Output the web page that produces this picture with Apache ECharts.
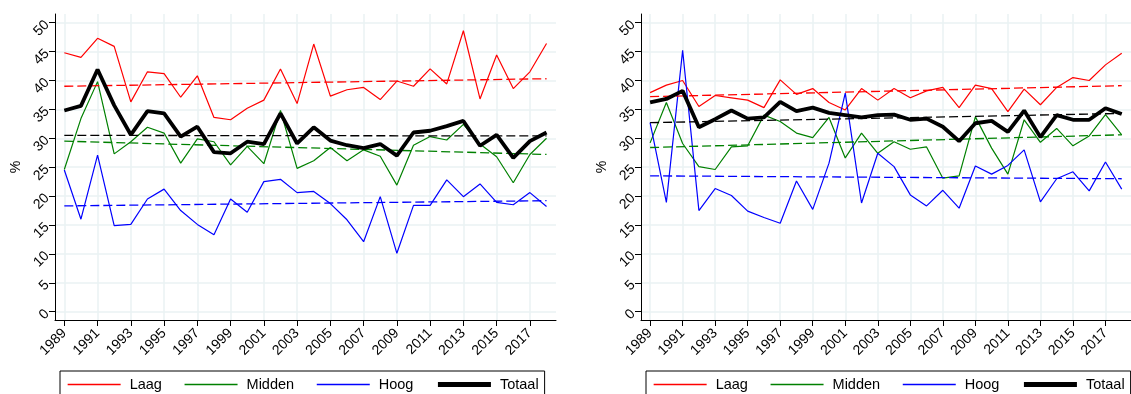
<!DOCTYPE html>
<html>
<head>
<meta charset="utf-8">
<script src="https://cdn.jsdelivr.net/npm/echarts@6/dist/echarts.min.js"></script>
<style>
html,body{margin:0;padding:0;background:#fff;}
#c{width:1131px;height:394px;}
</style>
</head>
<body>
<div id="c"></div>
<script>
const years = [1989,1990,1991,1992,1993,1994,1995,1996,1997,1998,1999,2000,2001,2002,2003,2004,2005,2006,2007,2008,2009,2010,2011,2012,2013,2014,2015,2016,2017,2018];
const xTicks = [1989,1991,1993,1995,1997,1999,2001,2003,2005,2007,2009,2011,2013,2015,2017];
const yTicks = [0,5,10,15,20,25,30,35,40,45,50];
const seriesNames = ['Laag','Midden','Hoog','Totaal'];

// Left panel
const leftLaag   = [44.8,44.0,47.3,45.9,36.3,41.5,41.2,37.1,40.8,33.6,33.2,35.2,36.6,42.0,36.0,46.3,37.3,38.4,38.8,36.7,39.9,39.0,42.0,39.4,48.6,36.8,44.4,38.6,41.5,46.4];
const leftMidden = [24.6,33.4,39.8,27.3,29.4,31.9,30.9,25.7,29.9,29.4,25.4,28.6,25.6,34.8,24.8,26.1,28.4,26.1,28.0,26.9,21.9,28.8,30.3,29.7,32.4,29.0,26.8,22.3,27.2,30.0];
const leftHoog   = [24.5,16.0,27.1,14.9,15.1,19.5,21.2,17.5,15.1,13.3,19.5,17.2,22.5,22.9,20.6,20.8,18.7,15.9,12.1,19.9,10.1,18.4,18.4,22.8,19.9,22.1,18.9,18.5,20.6,18.2];
const leftTotaal = [34.8,35.6,41.9,35.7,30.6,34.7,34.3,30.3,32.0,27.6,27.4,29.4,29.0,34.3,29.1,31.9,29.6,28.8,28.3,29.0,27.0,31.0,31.3,32.1,33.0,28.7,30.6,26.6,29.5,31.0];
// trend lines: [value at 1989, value at 2018]
const leftTrendLaag   = [39.0,40.3];
const leftTrendMidden = [29.5,27.2];
const leftTrendHoog   = [18.3,19.2];
const leftTrendTotaal = [30.5,30.4];

// Right panel
const rightLaag   = [37.9,39.2,40.0,35.5,37.4,37.0,36.6,35.3,40.1,37.6,38.6,36.2,34.9,38.6,36.6,38.6,37.0,38.2,38.8,35.3,39.2,38.6,34.6,38.5,35.8,38.8,40.5,40.0,42.7,44.7];
const rightMidden = [29.2,36.2,29.1,25.1,24.6,28.5,28.7,34.0,32.9,30.9,30.1,33.6,26.6,30.9,27.4,29.4,28.1,28.5,23.1,23.5,33.7,28.3,23.8,33.2,29.3,31.7,28.7,30.4,34.1,30.6];
const rightHoog   = [32.7,18.9,45.2,17.5,21.3,20.1,17.4,16.3,15.3,22.6,17.7,25.7,37.8,18.8,27.4,25.1,20.2,18.3,21.0,17.9,25.2,23.8,25.3,28.0,19.0,23.0,24.2,20.9,25.9,21.2];
const rightTotaal = [36.2,36.8,38.2,31.9,33.3,34.8,33.4,33.6,36.3,34.7,35.3,34.4,34.0,33.6,34.0,34.1,33.2,33.4,32.0,29.5,32.6,33.0,31.1,34.8,30.2,34.0,33.2,33.2,35.2,34.2];
const rightTrendLaag   = [37.2,39.1];
const rightTrendMidden = [28.4,30.6];
const rightTrendHoog   = [23.5,23.0];
const rightTrendTotaal = [32.7,34.3];

const colors = {Laag:'#ff0000', Midden:'#008000', Hoog:'#0000ff', Totaal:'#000000'};
const widths = {Laag:1.2, Midden:1.2, Hoog:1.2, Totaal:3.8};
const FONT = '"Liberation Sans", Arial, sans-serif';

const grids = [
  {left:55, top:14, width:501, height:306},
  {left:641, top:14, width:501, height:306}
];

function xAxisFor(i){
  return {
    type:'value', gridIndex:i, min:1988.44, max:2018.57,
    axisLine:{show:true, onZero:false, lineStyle:{color:'#000', width:1}},
    axisTick:{show:true, length:6, lineStyle:{color:'#000'}, customValues:xTicks},
    axisLabel:{customValues:xTicks, rotate:45, margin:11, color:'#000', fontSize:14, fontFamily:FONT, formatter:v=>String(v)},
    splitLine:{show:true, lineStyle:{color:'#eaf2f3', width:1.5}}
  };
}
function yAxisFor(i){
  return {
    type:'value', gridIndex:i, min:-1.44, max:51.5,
    name:'%', nameLocation:'middle', nameGap:32, nameRotate:90,
    nameTextStyle:{color:'#000', fontSize:14, fontFamily:FONT},
    axisLine:{show:true, onZero:false, lineStyle:{color:'#000', width:1}},
    axisTick:{show:true, length:6, lineStyle:{color:'#000'}, customValues:yTicks},
    axisLabel:{customValues:yTicks, rotate:45, margin:8, color:'#000', fontSize:14, fontFamily:FONT},
    splitLine:{show:true, lineStyle:{color:'#eaf2f3', width:1.5}}
  };
}

function pair(vals){ return vals.map((v,k)=>[years[k], v]); }
function trend(t){ return [[years[0], t[0]], [years[years.length-1], t[1]]]; }

function panelSeries(i, data, trends){
  const out = [];
  ['Laag','Midden','Hoog'].forEach((n,k)=>{
    out.push({name:n, type:'line', xAxisIndex:i, yAxisIndex:i, data:pair(data[k]), symbol:'none', silent:true,
      lineStyle:{color:colors[n], width:widths[n]}, itemStyle:{color:colors[n], opacity:0}, z:2});
  });
  seriesNames.forEach((n,k)=>{
    out.push({name:n+' trend', type:'line', xAxisIndex:i, yAxisIndex:i, data:trend(trends[k]), symbol:'none', silent:true,
      lineStyle:{color:colors[n], width:1.3, type:[9,4]}, itemStyle:{color:colors[n], opacity:0}, z:3});
  });
  out.push({name:'Totaal', type:'line', xAxisIndex:i, yAxisIndex:i, data:pair(data[3]), symbol:'none', silent:true,
    lineStyle:{color:'#000', width:widths.Totaal}, itemStyle:{color:'#000', opacity:0}, z:4});
  return out;
}

function legendFor(left){
  return {
    data:seriesNames.map(n=>({name:n, lineStyle:{width:n==='Totaal'?5:1.3, color:colors[n]}})),
    left:left, top:371, width:560, orient:'horizontal',
    padding:[6,6,7,7], itemWidth:53, itemHeight:14, itemGap:22,
    borderColor:'#000', borderWidth:1, borderRadius:0,
    itemStyle:{opacity:0},
    textStyle:{color:'#000', fontSize:14.5, fontFamily:FONT, padding:[0,0,0,4]},
    selectedMode:false
  };
}

const chart = echarts.init(document.getElementById('c'), null, {renderer:'canvas'});
chart.setOption({
  animation:false,
  backgroundColor:'#fff',
  textStyle:{fontFamily:FONT},
  grid:grids,
  xAxis:[xAxisFor(0), xAxisFor(1)],
  yAxis:[yAxisFor(0), yAxisFor(1)],
  legend:[legendFor(60), legendFor(646)],
  series:[
    ...panelSeries(0, [leftLaag,leftMidden,leftHoog,leftTotaal], [leftTrendLaag,leftTrendMidden,leftTrendHoog,leftTrendTotaal]),
    ...panelSeries(1, [rightLaag,rightMidden,rightHoog,rightTotaal], [rightTrendLaag,rightTrendMidden,rightTrendHoog,rightTrendTotaal])
  ]
});
</script>
</body>
</html>
